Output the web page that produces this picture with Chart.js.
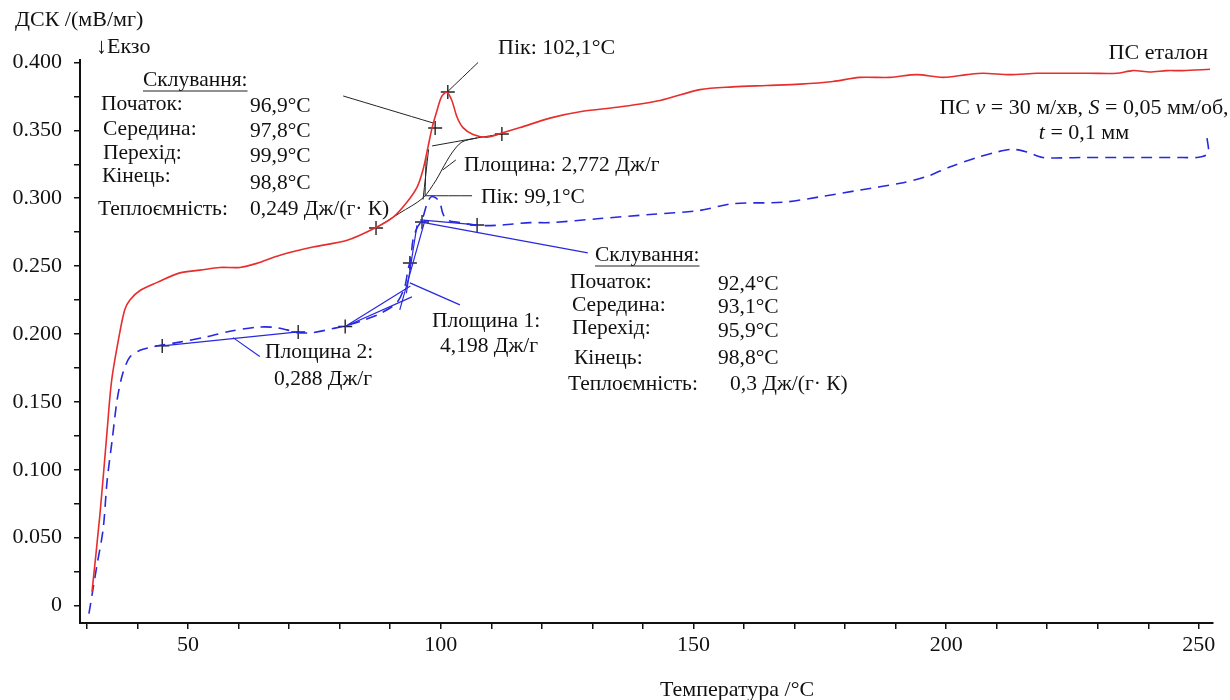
<!DOCTYPE html>
<html>
<head>
<meta charset="utf-8">
<script src="https://cdn.jsdelivr.net/npm/chart.js@4"></script>
<style>
  html, body { margin: 0; padding: 0; background: #fff; }
  #wrap { width: 1230px; height: 700px; }
</style>
</head>
<body>
<div id="wrap"><canvas id="myChart" width="1230" height="700"></canvas></div>
<script>
// ПС еталон (red, solid)
const redT = [31.0, 32.6, 34.0, 34.9, 36.5, 37.5, 38.5, 40.5, 43.9, 48.4, 52.4, 56.3, 60.3, 63.6, 68.2, 74.7, 81.5, 87.0, 90.6, 93.3, 95.3, 96.5, 97.5, 98.3, 99.3, 100.2, 101.2, 102.2, 103.2, 104.4, 106.4, 109.1, 112.1, 115.7, 121.6, 128.1, 134.9, 143.4, 151.3, 157.8, 164.5, 171.1, 177.6, 182.9, 188.9, 194.2, 199.4, 204.1, 207.3, 212.6, 218.0, 223.1, 228.4, 233.8, 236.9, 240.3, 243.7, 246.8, 252.2];
const redV = [0.010, 0.068, 0.129, 0.166, 0.201, 0.218, 0.225, 0.232, 0.238, 0.245, 0.247, 0.249, 0.249, 0.252, 0.258, 0.264, 0.269, 0.278, 0.286, 0.297, 0.308, 0.321, 0.338, 0.352, 0.365, 0.375, 0.378, 0.372, 0.360, 0.352, 0.347, 0.345, 0.348, 0.352, 0.359, 0.364, 0.367, 0.372, 0.380, 0.382, 0.383, 0.384, 0.386, 0.389, 0.389, 0.391, 0.389, 0.391, 0.392, 0.391, 0.392, 0.392, 0.392, 0.392, 0.394, 0.393, 0.394, 0.394, 0.395];

// ПС v = 30 м/хв ... (blue, dashed)
const blueT = [30.4, 32.0, 33.2, 34.0, 35.0, 36.0, 37.1, 38.5, 40.5, 42.5, 45.1, 48.4, 53.8, 58.3, 63.6, 66.8, 69.6, 71.6, 74.7, 78.7, 81.1, 84.6, 88.0, 91.3, 92.9, 93.5, 94.1, 94.5, 95.3, 96.3, 97.3, 98.1, 99.1, 99.9, 100.4, 101.2, 103.8, 107.2, 111.1, 114.3, 117.7, 121.6, 131.5, 141.4, 151.3, 157.8, 167.7, 175.0, 182.9, 190.9, 196.2, 200.7, 206.1, 210.0, 213.2, 216.0, 219.1, 227.1, 233.8, 240.3, 246.8, 249.6, 251.8, 251.6];
const blueV = [-0.006, 0.030, 0.056, 0.092, 0.122, 0.152, 0.171, 0.183, 0.188, 0.190, 0.192, 0.194, 0.198, 0.202, 0.205, 0.205, 0.203, 0.201, 0.201, 0.204, 0.206, 0.210, 0.215, 0.223, 0.235, 0.247, 0.256, 0.269, 0.278, 0.284, 0.296, 0.301, 0.300, 0.296, 0.289, 0.284, 0.282, 0.280, 0.280, 0.281, 0.282, 0.282, 0.285, 0.288, 0.291, 0.296, 0.297, 0.301, 0.306, 0.311, 0.316, 0.323, 0.330, 0.334, 0.336, 0.334, 0.330, 0.330, 0.330, 0.330, 0.330, 0.330, 0.333, 0.345];

// analysis lines (T, value) for the red curve
const blackSegs = [
  [[80.7, 0.3753], [98.5, 0.3554]],
  [[101.2, 0.3779], [107.4, 0.4000]],
  [[98.3, 0.3385], [107.2, 0.3444], [112.1, 0.3473]],
  [[87.2, 0.2781], [91.9, 0.2891], [96.5, 0.3002], [99.1, 0.3134], [100.2, 0.3208], [102.2, 0.3333], [104.2, 0.3414], [107.2, 0.3444]],
  [[96.5, 0.2990], [97.6, 0.3360]],
  [[96.9, 0.3020], [97.1, 0.3300]],
  [[100.4, 0.3208], [103.0, 0.3282]],
  [[96.9, 0.3018], [106.2, 0.3018]]
];
// analysis lines for the blue curve
const blueSegs = [
  [[44.9, 0.1912], [71.8, 0.2015]],
  [[58.9, 0.1973], [64.2, 0.1834]],
  [[81.1, 0.2055], [94.3, 0.2273]],
  [[81.1, 0.2055], [94.0, 0.2354]],
  [[91.9, 0.2177], [96.9, 0.2840]],
  [[93.2, 0.2300], [95.3, 0.2800]],
  [[93.9, 0.2376], [103.8, 0.2214]],
  [[95.9, 0.2840], [107.2, 0.2803]],
  [[95.9, 0.2825], [129.1, 0.2597]]
];
const blackCross = [[87.2, 0.2781], [98.9, 0.3517], [101.4, 0.3782], [112.1, 0.3473]];
const blueCross = [[44.9, 0.1912], [71.8, 0.2015], [81.1, 0.2055], [93.9, 0.2523], [96.3, 0.2825], [107.2, 0.2803]];

// tick positions
const xTicks = [30, 40, 50, 60, 70, 80, 90, 100, 110, 120, 130, 140, 150, 160, 170, 180, 190, 200, 210, 220, 230, 240, 250];
const yTicks = [0, 0.025, 0.05, 0.075, 0.1, 0.125, 0.15, 0.175, 0.2, 0.225, 0.25, 0.275, 0.3, 0.325, 0.35, 0.375, 0.4];

const xMin = 28.63, xMax = 252.8;
const yMin = -0.0129, yMax = 0.4018;

const RED = 'rgb(232,45,45)';
const BLUE = 'rgb(40,40,225)';
const INK = 'rgb(35,35,35)';
const SERIF = '"Liberation Serif", "DejaVu Serif", serif';
const FS = 21.5;

const toPts = (xs, ys) => xs.map((t, i) => ({ x: t, y: ys[i] }));
const segPts = seg => seg.map(p => ({ x: p[0], y: p[1] }));

const datasets = [];
datasets.push({ data: toPts(redT, redV), showLine: true, borderColor: RED, borderWidth: 1.6, pointRadius: 0, tension: 0.3 });
datasets.push({ data: toPts(blueT, blueV), showLine: true, borderColor: BLUE, borderWidth: 1.6, borderDash: [11, 7], pointRadius: 0, tension: 0.3 });
blackSegs.forEach(s => datasets.push({ data: segPts(s), showLine: true, borderColor: INK, borderWidth: 1, pointRadius: 0, tension: 0.3 }));
blueSegs.forEach(s => datasets.push({ data: segPts(s), showLine: true, borderColor: BLUE, borderWidth: 1.2, pointRadius: 0 }));
datasets.push({ data: segPts(blackCross), showLine: false, pointStyle: 'cross', pointRadius: 7, borderColor: INK, borderWidth: 1.4 });
datasets.push({ data: segPts(blueCross), showLine: false, pointStyle: 'cross', pointRadius: 7, borderColor: INK, borderWidth: 1.4 });

// text drawn on top of the chart
function put(ctx, s, x, y, size, align) {
  ctx.font = (size || FS) + 'px ' + SERIF;
  ctx.textAlign = align || 'left';
  ctx.fillText(s, x, y);
}
function rich(ctx, runs, cx, y, size) {
  let w = 0;
  runs.forEach(r => { ctx.font = (r[1] ? 'italic ' : '') + size + 'px ' + SERIF; w += ctx.measureText(r[0]).width; });
  let x = cx - w / 2;
  ctx.textAlign = 'left';
  runs.forEach(r => { ctx.font = (r[1] ? 'italic ' : '') + size + 'px ' + SERIF; ctx.fillText(r[0], x, y); x += ctx.measureText(r[0]).width; });
}
function underlined(ctx, s, x, y, size) {
  put(ctx, s, x, y, size);
  const w = ctx.measureText(s).width;
  ctx.beginPath();
  ctx.moveTo(x, y + 11);
  ctx.lineTo(x + w, y + 11);
  ctx.lineWidth = 1;
  ctx.strokeStyle = '#222';
  ctx.stroke();
}

const labelsPlugin = {
  id: 'labels',
  afterDraw(chart) {
    const ctx = chart.ctx;
    ctx.save();
    ctx.fillStyle = '#111';
    ctx.textBaseline = 'middle';
    put(ctx, 'ДСК /(мВ/мг)', 15, 20, 22);
    put(ctx, '↓Екзо', 96, 47, 22);
    put(ctx, 'ПС еталон', 1208, 53, 22, 'right');
    rich(ctx, [['ПС ', false], ['v', true], [' = 30 м/хв, ', false], ['S', true], [' = 0,05 мм/об,', false]], 1084, 108, 22);
    rich(ctx, [['t', true], [' = 0,1 мм', false]], 1084, 133, 22);

    underlined(ctx, 'Склування:', 143, 80);
    put(ctx, 'Початок:', 101, 104);
    put(ctx, 'Середина:', 103, 129);
    put(ctx, 'Перехід:', 103, 153);
    put(ctx, 'Кінець:', 102, 176);
    put(ctx, 'Теплоємність:', 98, 209);
    put(ctx, '96,9°C', 250, 106);
    put(ctx, '97,8°C', 250, 131);
    put(ctx, '99,9°C', 250, 156);
    put(ctx, '98,8°C', 250, 183);
    put(ctx, '0,249 Дж/(г· К)', 250, 209);

    put(ctx, 'Пік: 102,1°C', 498, 48, 22);
    put(ctx, 'Площина: 2,772 Дж/г', 464, 165);
    put(ctx, 'Пік: 99,1°C', 481, 197);

    underlined(ctx, 'Склування:', 595, 255);
    put(ctx, 'Початок:', 570, 282);
    put(ctx, 'Середина:', 572, 305);
    put(ctx, 'Перехід:', 572, 328);
    put(ctx, 'Кінець:', 574, 358);
    put(ctx, 'Теплоємність:', 568, 384);
    put(ctx, '92,4°C', 718, 284);
    put(ctx, '93,1°C', 718, 307);
    put(ctx, '95,9°C', 718, 331);
    put(ctx, '98,8°C', 718, 358);
    put(ctx, '0,3 Дж/(г· К)', 730, 384);

    put(ctx, 'Площина 1:', 432, 321);
    put(ctx, '4,198 Дж/г', 440, 346);
    put(ctx, 'Площина 2:', 265, 352);
    put(ctx, '0,288 Дж/г', 274, 379);

    put(ctx, 'Температура /°С', 660, 690, 22);
    ctx.restore();
  }
};

const ctx = document.getElementById('myChart').getContext('2d');
const myChart = new Chart(ctx, {
  type: 'scatter',
  data: { datasets: datasets },
  options: {
    responsive: false,
    animation: false,
    events: [],
    layout: { padding: { left: 0, top: 60, right: 17, bottom: 0 } },
    plugins: { legend: { display: false }, tooltip: { enabled: false } },
    scales: {
      x: {
        type: 'linear',
        min: xMin,
        max: xMax,
        afterFit: s => { s.height = 77; },
        afterBuildTicks: s => { s.ticks = xTicks.map(v => ({ value: v })); },
        ticks: {
          autoSkip: false,
          maxRotation: 0,
          padding: 3,
          color: '#111',
          font: { family: SERIF, size: 22 },
          callback: v => (Math.round(v) % 50 === 0 ? String(Math.round(v)) : '')
        },
        grid: { drawOnChartArea: false, tickLength: 6, color: '#111', lineWidth: 1.5 },
        border: { display: true, color: '#111', width: 2 }
      },
      y: {
        type: 'linear',
        min: yMin,
        max: yMax,
        afterFit: s => { s.width = 80; },
        afterBuildTicks: s => { s.ticks = yTicks.map(v => ({ value: v })); },
        ticks: {
          autoSkip: false,
          padding: 12,
          color: '#111',
          font: { family: SERIF, size: 22 },
          callback: v => {
            const k = Math.round(v / 0.025);
            if (k % 2 !== 0) return '';
            return k === 0 ? '0' : (k * 0.025).toFixed(3);
          }
        },
        grid: { drawOnChartArea: false, tickLength: 6, color: '#111', lineWidth: 1.5 },
        border: { display: true, color: '#111', width: 2 }
      }
    }
  },
  plugins: [labelsPlugin]
});
</script>
</body>
</html>
